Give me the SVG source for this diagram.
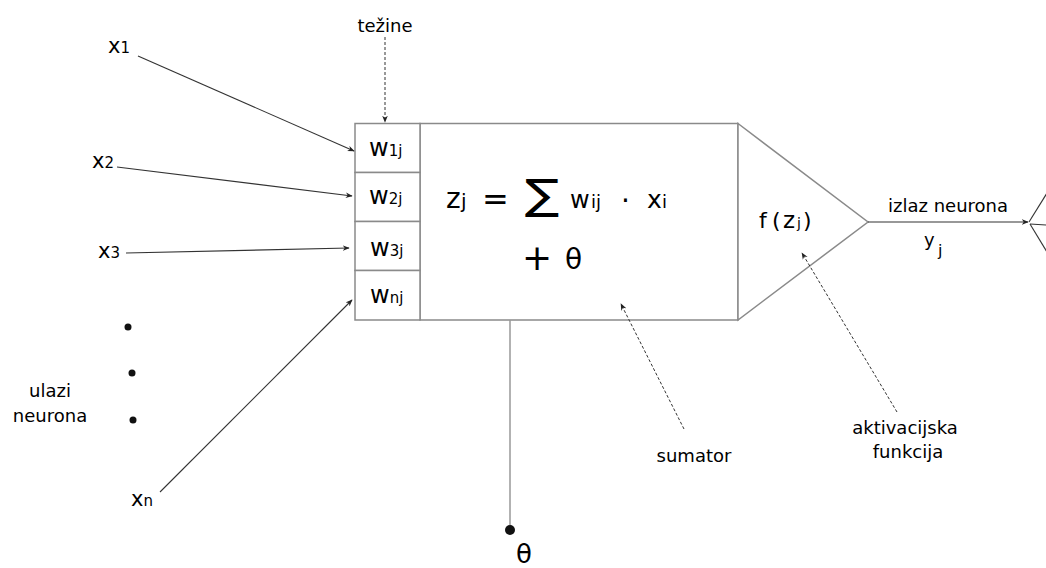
<svg xmlns="http://www.w3.org/2000/svg" width="1046" height="568" viewBox="0 0 1046 568">
<style>
text{font-family:"DejaVu Sans","Liberation Sans",sans-serif;fill:#000}
.lbl{font-size:18px}
.box{fill:#fff;stroke:#8a8a8a;stroke-width:1.5}
.arr{stroke:#333;stroke-width:1.1;fill:none}
.dash{stroke:#333;stroke-width:1;fill:none;stroke-dasharray:3 2}
</style>
<defs>
<marker id="ah" viewBox="0 0 10 10" refX="9" refY="5" markerWidth="7" markerHeight="7" markerUnits="userSpaceOnUse" orient="auto">
<path d="M0,1 L10,5 L0,9 L3,5 Z" fill="#222"/>
</marker>
</defs>
<rect width="1046" height="568" fill="#fff"/>

<g id="neuron">
<rect class="box" x="420" y="123.5" width="318" height="196.5"/>
<polygon class="box" points="738,123.5 868,222 738,320"/>
</g>
<g id="weights">
<rect class="box" x="355" y="123.5" width="65" height="49"/>
<rect class="box" x="355" y="172.5" width="65" height="49"/>
<rect class="box" x="355" y="221.5" width="65" height="49"/>
<rect class="box" x="355" y="270.5" width="65" height="49.5"/>
<text x="369" y="156" font-size="24">w<tspan font-size="15">1j</tspan></text>
<text x="369" y="204" font-size="24">w<tspan font-size="15">2j</tspan></text>
<text x="370" y="256" font-size="24">w<tspan font-size="15">3j</tspan></text>
<text x="370" y="303" font-size="24">w<tspan font-size="15">nj</tspan></text>
</g>
<g id="formula">
<text x="446" y="208" font-size="28">z</text>
<text x="461" y="208" font-size="20">j</text>
<text x="482" y="210" font-size="32">=</text>
<text transform="translate(525,209) scale(1.22,1)" font-size="42">∑</text>
<text x="570" y="208" font-size="24">w</text>
<text x="591" y="208" font-size="18">ij</text>
<text x="621" y="210" font-size="28">·</text>
<text x="647" y="208" font-size="25">x</text>
<text x="662" y="208" font-size="18">i</text>
<text x="522" y="270" font-size="36">+</text>
<text x="565" y="269" font-size="28">θ</text>
</g>
<g id="activation">
<text x="759" y="228" font-size="22">f</text>
<text x="772" y="228" font-size="22">(</text>
<text x="783" y="228" font-size="23">z</text>
<text x="797" y="228" font-size="14">j</text>
<text x="803" y="228" font-size="22">)</text>
</g>
<g id="inputs">
<text x="108" y="53" font-size="21">x<tspan font-size="15">1</tspan></text>
<text x="92" y="168" font-size="21">x<tspan font-size="15">2</tspan></text>
<text x="98" y="258" font-size="21">x<tspan font-size="15">3</tspan></text>
<text x="131" y="506" font-size="21">x<tspan font-size="15">n</tspan></text>
<circle cx="128" cy="327" r="3.5" fill="#111"/>
<circle cx="132" cy="373" r="3.5" fill="#111"/>
<circle cx="133" cy="420" r="3.5" fill="#111"/>
<text class="lbl" x="50" y="397" text-anchor="middle">ulazi</text>
<text class="lbl" x="50" y="422" text-anchor="middle">neurona</text>
</g>
<g id="labels">
<text class="lbl" x="385" y="32" text-anchor="middle">težine</text>
<text class="lbl" x="694" y="462" text-anchor="middle">sumator</text>
<text class="lbl" x="905" y="434" text-anchor="middle">aktivacijska</text>
<text class="lbl" x="908" y="458" text-anchor="middle">funkcija</text>
<text class="lbl" x="948" y="212" text-anchor="middle">izlaz neurona</text>
<text x="924" y="246" font-size="18">y</text>
<text x="938" y="256" font-size="16">j</text>
</g>
<g id="bias">
<line x1="510" y1="320" x2="510" y2="530" stroke="#999" stroke-width="1.5"/>
<circle cx="510" cy="530" r="5" fill="#111"/>
<text x="516" y="563" font-size="26">θ</text>
</g>
<g id="connectors">
<line class="arr" x1="138" y1="56" x2="354" y2="151" marker-end="url(#ah)"/>
<line class="arr" x1="117" y1="167" x2="352" y2="196" marker-end="url(#ah)"/>
<line class="arr" x1="126" y1="253" x2="349" y2="248" marker-end="url(#ah)"/>
<line class="arr" x1="160" y1="492" x2="352" y2="300" marker-end="url(#ah)"/>
<line class="dash" x1="385" y1="37" x2="385" y2="122" marker-end="url(#ah)"/>
<line class="dash" x1="684" y1="429" x2="621" y2="304" marker-end="url(#ah)"/>
<line class="dash" x1="897" y1="412" x2="802" y2="253" marker-end="url(#ah)"/>
<line class="arr" x1="868" y1="222" x2="1028" y2="222" marker-end="url(#ah)"/>
<line class="arr" x1="1029" y1="222" x2="1047" y2="193"/>
<line class="arr" x1="1030" y1="224" x2="1047" y2="225"/>
<line class="arr" x1="1030" y1="224" x2="1047" y2="252"/>
</g>
</svg>
